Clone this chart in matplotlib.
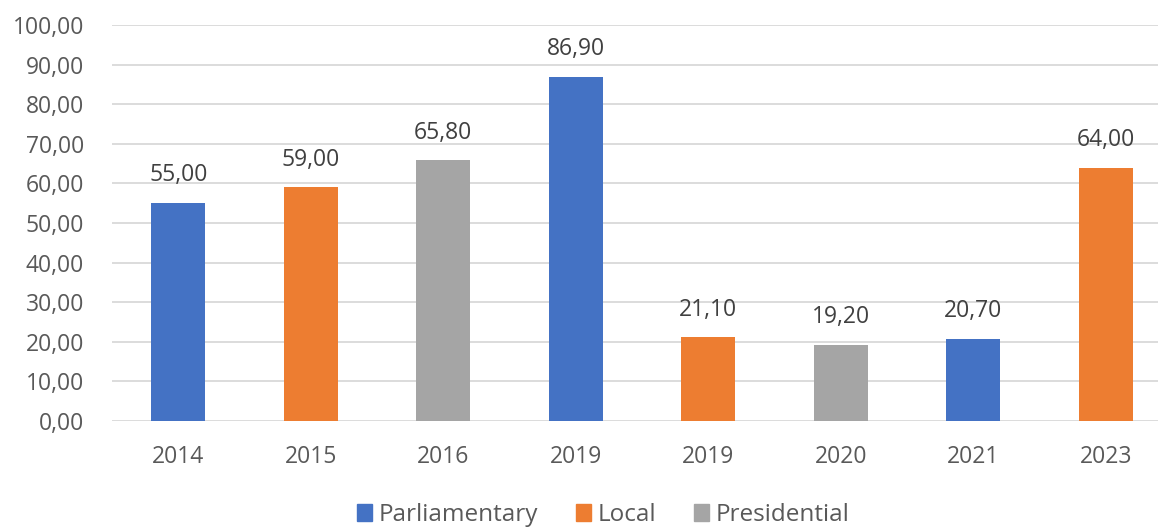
import matplotlib
matplotlib.use("Agg")
import matplotlib.pyplot as plt
from matplotlib.patches import Patch

plt.rcParams['font.family'] = ['Open Sans', 'DejaVu Sans']

years = ['2014', '2015', '2016', '2019', '2019', '2020', '2021', '2023']
values = [55.00, 59.00, 65.80, 86.90, 21.10, 19.20, 20.70, 64.00]
kinds = ['Parliamentary', 'Local', 'Presidential', 'Parliamentary',
         'Local', 'Presidential', 'Parliamentary', 'Local']

kind_colors = {'Parliamentary': '#4472C4', 'Local': '#ED7D31', 'Presidential': '#A5A5A5'}
text_col = '#595959'

fig = plt.figure(figsize=(11.58, 5.27), dpi=100)
ax = fig.add_axes([112 / 1158, 106 / 527, 1060 / 1158, 396 / 527])

x = range(len(years))
bars = ax.bar(x, values, width=0.41, color=[kind_colors[k] for k in kinds], zorder=3)

# value labels above each bar, comma as decimal separator
for b, v in zip(bars, values):
    ax.text(b.get_x() + b.get_width() / 2, v + 4.0, f'{v:.2f}'.replace('.', ','),
            ha='center', va='bottom', fontsize=16.5, color='#404040')

ax.set_ylim(0, 100)
ax.set_xlim(-0.5, 7.5)
ax.set_yticks(range(0, 101, 10))
ax.set_yticklabels([f'{t},00' for t in range(0, 101, 10)])
ax.set_xticks(list(x))
ax.set_xticklabels(years)
ax.tick_params(axis='both', length=0, labelsize=16.5, labelcolor=text_col)
ax.tick_params(axis='y', pad=20)
ax.tick_params(axis='x', pad=17)
ax.yaxis.grid(True, color='#D9D9D9', linewidth=1.3, zorder=0)
for s in ax.spines.values():
    s.set_visible(False)

handles = [Patch(color=kind_colors[k]) for k in ['Parliamentary', 'Local', 'Presidential']]
fig.legend(handles, ['Parliamentary', 'Local', 'Presidential'], loc='center',
           bbox_to_anchor=(603 / 1158, 1 - 515 / 527), ncol=3, frameon=False,
           fontsize=17.5, labelcolor=text_col, handlelength=0.65, handleheight=0.65,
           handletextpad=0.25, columnspacing=1.55)

fig.savefig('out.png', dpi=100)
